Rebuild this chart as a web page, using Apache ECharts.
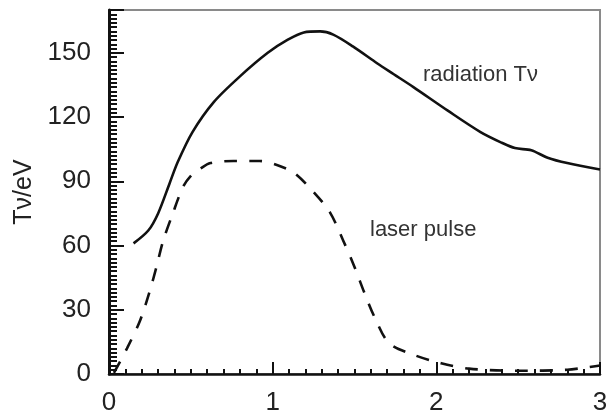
<!DOCTYPE html>
<html lang="en">
<head>
    <meta charset="UTF-8">
    <title>Tv</title>
    <style>
        html, body {
            margin: 0;
            height: 100%;
            background: #fff;
        }
        #main {
            width: 616px;
            height: 415px;
        }
    </style>
    <script src="https://cdn.jsdelivr.net/npm/echarts@6/dist/echarts.min.js"></script>
</head>
<body>
    <div id="main"></div>
    <script>
        // time in ns, temperatures in eV
        const radiationTv = [
            [0.15, 61], [0.24, 67], [0.30, 75], [0.37, 89], [0.42, 99], [0.51, 113],
            [0.64, 127], [0.80, 139], [0.97, 150], [1.09, 156], [1.19, 159.5], [1.29, 160],
            [1.37, 158.5], [1.49, 153], [1.64, 145], [1.74, 140], [1.86, 134], [2.07, 123],
            [2.27, 113], [2.40, 108], [2.48, 105.5], [2.58, 104.5], [2.68, 101], [2.80, 98.5],
            [3.00, 95.5]
        ]
        const laserPulse = [
            [0.03, 0.5], [0.11, 12], [0.19, 25], [0.25, 39], [0.29, 50], [0.33, 62],
            [0.39, 75], [0.45, 87], [0.50, 92.5], [0.56, 96], [0.62, 98.5], [0.76, 99.5],
            [0.92, 99.5], [1.03, 97.5], [1.13, 94], [1.25, 85], [1.35, 75.5], [1.43, 62.5],
            [1.50, 50], [1.56, 38], [1.62, 27], [1.71, 14.5], [1.86, 9], [2.03, 5],
            [2.20, 2.5], [2.50, 1.5], [2.80, 2], [3.00, 4]
        ]
        const seriesNames = ['radiation Tν', 'laser pulse']
        const yName = 'Tν/eV'

        const chart = echarts.init(document.getElementById('main'))
        const font = '"Liberation Sans", Arial, sans-serif'

        chart.setOption({
            animation: false,
            grid: {
                left: 109, right: 16, top: 10, bottom: 41,
                outerBoundsMode: 'none',
                show: true,
                borderColor: '#8a8a8a',
                borderWidth: 2
            },
            xAxis: {
                type: 'value',
                min: 0, max: 3, interval: 1,
                axisLine: { lineStyle: { color: '#111', width: 2.5 } },
                axisTick: { inside: true, length: 12, lineStyle: { color: '#111', width: 2 } },
                minorTick: { show: true, splitNumber: 10, length: 5, lineStyle: { color: '#111', width: 2 } },
                splitLine: { show: false },
                axisLabel: { color: '#222', fontSize: 26, fontFamily: font, margin: 16 }
            },
            yAxis: {
                type: 'value',
                min: 0, max: 170, interval: 30,
                name: yName,
                nameLocation: 'middle',
                nameGap: 72,
                nameTextStyle: { color: '#222', fontSize: 25, fontFamily: font },
                axisLine: { show: true, lineStyle: { color: '#111', width: 3 } },
                axisTick: { inside: true, length: 15, lineStyle: { color: '#111', width: 2 } },
                minorTick: { show: true, splitNumber: 15, length: 8, lineStyle: { color: '#111', width: 2 } },
                splitLine: { show: false },
                axisLabel: { color: '#222', fontSize: 26, fontFamily: font, margin: 18, showMaxLabel: false }
            },
            graphic: [
                { type: 'text', left: 423, top: 64, style: { text: seriesNames[0], fontSize: 22, fontFamily: font, fill: '#333' } },
                { type: 'text', left: 370, top: 219, style: { text: seriesNames[1], fontSize: 22, fontFamily: font, fill: '#333' } }
            ],
            series: [
                {
                    name: seriesNames[0],
                    type: 'line',
                    data: radiationTv,
                    smooth: 0.3,
                    showSymbol: false,
                    lineStyle: { color: '#111', width: 2.6 }
                },
                {
                    name: seriesNames[1],
                    type: 'line',
                    data: laserPulse,
                    smooth: 0.3,
                    showSymbol: false,
                    lineStyle: { color: '#111', width: 2.6, type: [13, 12] }
                }
            ]
        })
    </script>
</body>
</html>
